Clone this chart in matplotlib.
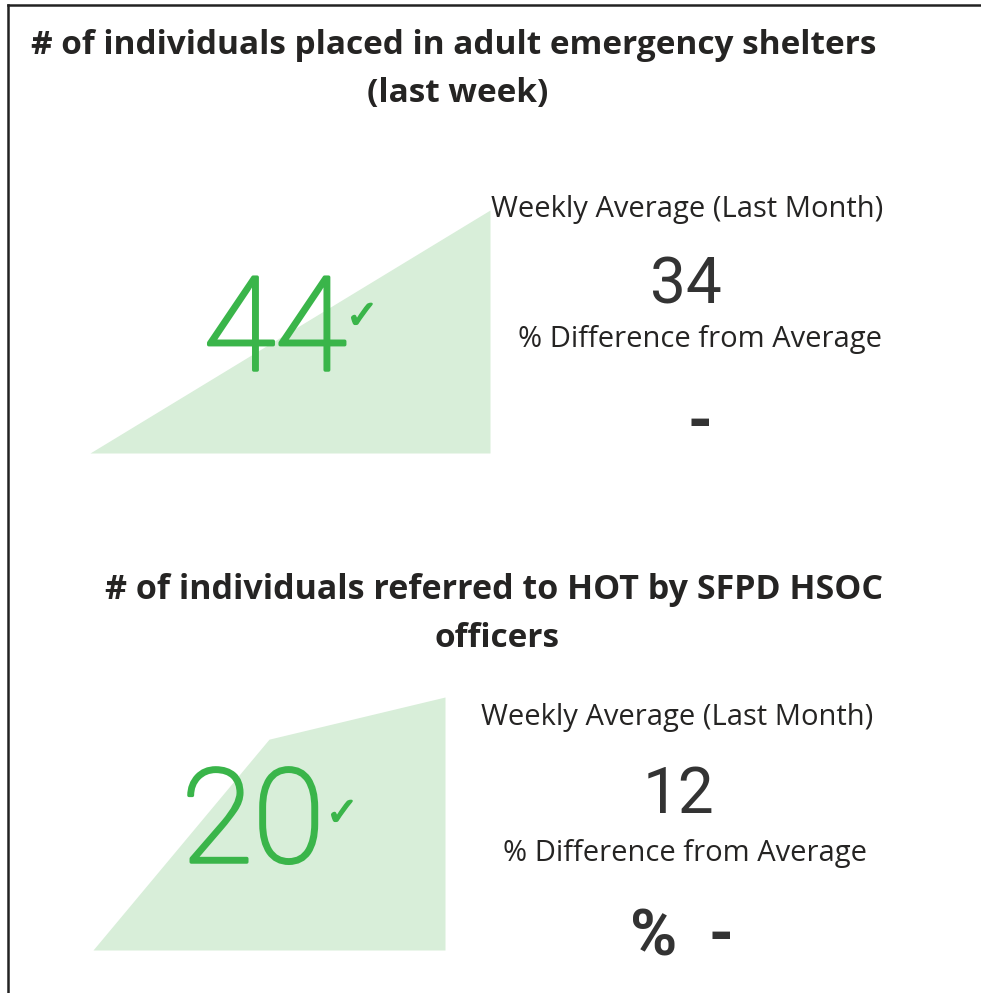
import matplotlib.pyplot as plt
import matplotlib.patheffects as pe
from matplotlib.lines import Line2D

# KPI card data
titles = [["# of individuals placed in adult emergency shelters", "(last week)"],
          ["# of individuals referred to HOT by SFPD HSOC", "officers"]]
current = [44, 20]
weekly_avg = [34, 12]
pct_diff = ["-", "%  -"]
trend_1 = [22, 44]
trend_2 = [8, 18, 20]

W, H = 981, 993
fig = plt.figure(figsize=(W / 100, H / 100), dpi=100)
fig.patch.set_facecolor('white')

fill_col = '#d8eed9'
green = '#3ab54a'
dark = '#252423'
num_col = '#333333'


def px_axes(x0, y0, x1, y1):
    return fig.add_axes([x0 / W, 1 - y1 / H, (x1 - x0) / W, (y1 - y0) / H])


def sparkline(ax, vals):
    xs = list(range(len(vals)))
    ax.fill_between(xs, vals, min(vals), color=fill_col, lw=0)
    ax.set_xlim(0, len(vals) - 1)
    ax.set_ylim(min(vals), max(vals))
    ax.axis('off')


sparkline(px_axes(90, 210, 490, 453), trend_1)
sparkline(px_axes(93, 697, 445, 950), trend_2)

# overlay in pixel coordinates for all text
ov = fig.add_axes([0, 0, 1, 1])
ov.set_xlim(0, W)
ov.set_ylim(H, 0)
ov.axis('off')

ov.add_line(Line2D([8, 8], [5, H], color='#222222', lw=1.8))
ov.add_line(Line2D([8, W], [5, 5], color='#222222', lw=1.8))

title_kw = dict(family='Open Sans', fontweight='bold', color=dark,
                ha='center', va='baseline')
ov.text(454, 54, titles[0][0], fontsize=24, **title_kw)
ov.text(458, 102, titles[0][1], fontsize=24, **title_kw)
ov.text(494, 599, titles[1][0], fontsize=24.5, **title_kw)
ov.text(497, 647, titles[1][1], fontsize=24, **title_kw)

thick = [pe.withStroke(linewidth=2.5, foreground=green)]
lab_kw = dict(family='Open Sans', fontsize=21, color=dark, ha='center', va='baseline')
big_kw = dict(family='Roboto', fontweight='light', fontsize=94, color=green,
              ha='center', va='baseline', path_effects=thick)
chk_kw = dict(family='DejaVu Sans', fontsize=28, color=green, ha='left', va='center',
              path_effects=[pe.withStroke(linewidth=1.2, foreground=green)])
avg_kw = dict(family='Roboto', fontsize=46, color=num_col, ha='center', va='baseline')
pct_kw = dict(family='Roboto', fontsize=46, color=num_col, ha='center',
              fontweight='bold')

# card 1
ov.text(275, 370, str(current[0]), **big_kw)
ov.text(346, 317, '\u2713', **chk_kw)
ov.text(687, 217, 'Weekly Average (Last Month)', **lab_kw)
ov.text(686, 304, str(weekly_avg[0]), **avg_kw)
ov.text(700, 347, '% Difference from Average', **lab_kw)
ov.text(700, 425, pct_diff[0], va='center', **pct_kw)

# card 2
ov.text(253, 862, str(current[1]), **big_kw)
ov.text(326, 814, '\u2713', **chk_kw)
ov.text(677, 725, 'Weekly Average (Last Month)', **lab_kw)
ov.text(678, 813, str(weekly_avg[1]), **avg_kw)
ov.text(685, 861, '% Difference from Average', **lab_kw)
ov.text(682, 955, pct_diff[1], va='baseline', **pct_kw)

fig.savefig('out.png', dpi=100, facecolor='white')
